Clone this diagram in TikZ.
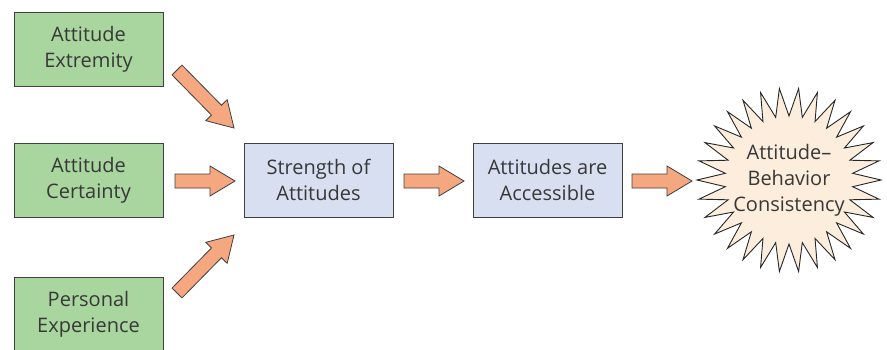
\documentclass[tikz,border=0pt]{standalone}
\usepackage{fontspec}
\setmainfont{Open Sans}[Ligatures=NoCommon]
\usetikzlibrary{calc}
\definecolor{boxgreen}{HTML}{A9D59E}
\definecolor{boxblue}{HTML}{D8DFF1}
\definecolor{arrowfill}{HTML}{F5A77F}
\definecolor{starfill}{HTML}{FCEDDC}
\definecolor{edgegray}{HTML}{404040}
\definecolor{textgray}{HTML}{383838}
\tikzset{
  box/.style={draw=edgegray, line width=0.9pt, minimum width=149pt, minimum height=74pt,
    align=center, inner sep=0pt, text=textgray, font=\fontsize{20}{26}\selectfont},
  greenbox/.style={box, fill=boxgreen},
  bluebox/.style={box, fill=boxblue},
  arrowbody/.style={draw=edgegray, line width=0.8pt, fill=arrowfill, line join=miter},
}
\newcommand\blockarrow[2]{%
  \path ($(#2)!25pt!(#1)$) coordinate (hb);
  \draw[arrowbody] ($(#1)!7pt!90:(#2)$) -- ($(hb)!7pt!90:(#2)$) -- ($(hb)!15pt!90:(#2)$)
    -- (#2) -- ($(hb)!15pt!-90:(#2)$) -- ($(hb)!7pt!-90:(#2)$) -- ($(#1)!7pt!-90:(#2)$) -- cycle;
}
\begin{document}
\begin{tikzpicture}[x=1pt,y=-1pt]
\useasboundingbox (0,0) rectangle (887,349);
\begin{scope}
\clip (0,0) rectangle (887,349);
\node[greenbox] (ext) at (88.5,49) {Attitude\\Extremity};
\node[greenbox] (cer) at (88.5,180) {Attitude\\Certainty};
\node[greenbox] (per) at (88.5,314) {Personal\\Experience};
\end{scope}
\node[bluebox] (str) at (318.5,180) {Strength of\\Attitudes};
\node[bluebox] (acc) at (547.5,180) {Attitudes are\\Accessible};
% starburst
\coordinate (sc) at (789,180);
\foreach \i in {0,...,59} {
  \ifodd\i \def\rad{64}\else\def\rad{92}\fi
  \coordinate (s\i) at ($(sc)+({\i*6}:\rad)$);
}
\filldraw[draw=black!85, line width=0.9pt, fill=starfill, line join=miter]
  (s0) \foreach \i in {1,...,59} { -- (s\i) } -- cycle;
\node[align=center, text=textgray, font=\fontsize{20}{26}\selectfont] (con) at (sc) {Attitude–\\Behavior\\Consistency};
% arrow end points
\coordinate (a1s) at (177,70);  \coordinate (a1e) at (234,128);
\coordinate (a2s) at (175,181); \coordinate (a2e) at (235,181);
\coordinate (a3s) at (177,293); \coordinate (a3e) at (234,235);
\coordinate (a4s) at (404,181); \coordinate (a4e) at (464,181);
\coordinate (a5s) at (632,181); \coordinate (a5e) at (692,181);
\blockarrow{a1s}{a1e}
\blockarrow{a2s}{a2e}
\blockarrow{a3s}{a3e}
\blockarrow{a4s}{a4e}
\blockarrow{a5s}{a5e}
\end{tikzpicture}
\end{document}
